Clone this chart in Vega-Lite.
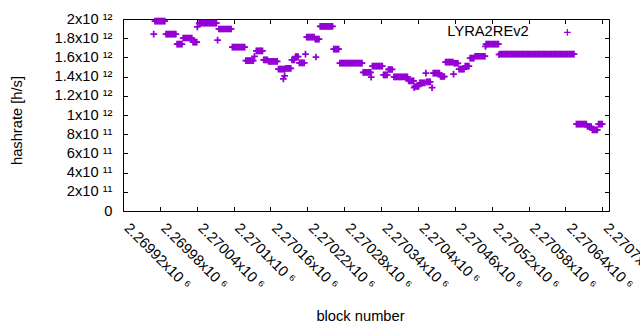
{
"$schema":"https://vega.github.io/schema/vega-lite/v6.json",
"width":486,"height":192,
"autosize":{"type":"none"},
"padding":{"left":123,"top":19,"right":31,"bottom":119},
"background":"white",
"config":{"view":{"stroke":null},"font":"Liberation Sans"},
"data":{"values":[
{"block":2269970,"hashrate":1.843e12},
{"block":2269972,"hashrate":1.977e12},{"block":2269974,"hashrate":1.977e12},{"block":2269976,"hashrate":1.977e12},{"block":2269978,"hashrate":1.977e12},{"block":2269980,"hashrate":1.977e12},{"block":2269982,"hashrate":1.977e12},{"block":2269984,"hashrate":1.977e12},{"block":2269986,"hashrate":1.977e12},{"block":2269988,"hashrate":1.977e12},
{"block":2269990,"hashrate":1.843e12},{"block":2269992,"hashrate":1.843e12},{"block":2269994,"hashrate":1.843e12},{"block":2269996,"hashrate":1.843e12},{"block":2269998,"hashrate":1.843e12},{"block":2270000,"hashrate":1.843e12},{"block":2270002,"hashrate":1.843e12},{"block":2270004,"hashrate":1.843e12},{"block":2270006,"hashrate":1.843e12},
{"block":2270008,"hashrate":1.739e12},{"block":2270010,"hashrate":1.739e12},{"block":2270012,"hashrate":1.739e12},{"block":2270014,"hashrate":1.739e12},{"block":2270016,"hashrate":1.739e12},
{"block":2270018,"hashrate":1.802e12},{"block":2270020,"hashrate":1.802e12},{"block":2270022,"hashrate":1.802e12},{"block":2270024,"hashrate":1.802e12},{"block":2270026,"hashrate":1.802e12},{"block":2270028,"hashrate":1.802e12},{"block":2270030,"hashrate":1.802e12},{"block":2270032,"hashrate":1.802e12},
{"block":2270034,"hashrate":1.76e12},{"block":2270036,"hashrate":1.76e12},{"block":2270038,"hashrate":1.76e12},{"block":2270040,"hashrate":1.76e12},
{"block":2270041,"hashrate":1.917e12},
{"block":2270044,"hashrate":1.958e12},{"block":2270046,"hashrate":1.958e12},{"block":2270048,"hashrate":1.958e12},{"block":2270050,"hashrate":1.958e12},{"block":2270052,"hashrate":1.958e12},{"block":2270054,"hashrate":1.958e12},{"block":2270056,"hashrate":1.958e12},{"block":2270058,"hashrate":1.958e12},{"block":2270060,"hashrate":1.958e12},{"block":2270062,"hashrate":1.958e12},{"block":2270064,"hashrate":1.958e12},{"block":2270066,"hashrate":1.958e12},{"block":2270068,"hashrate":1.958e12},{"block":2270070,"hashrate":1.958e12},{"block":2270072,"hashrate":1.958e12},
{"block":2270074,"hashrate":1.781e12},
{"block":2270076,"hashrate":1.896e12},{"block":2270078,"hashrate":1.896e12},{"block":2270080,"hashrate":1.896e12},{"block":2270082,"hashrate":1.896e12},{"block":2270084,"hashrate":1.896e12},{"block":2270086,"hashrate":1.896e12},{"block":2270088,"hashrate":1.896e12},{"block":2270090,"hashrate":1.896e12},{"block":2270092,"hashrate":1.896e12},{"block":2270094,"hashrate":1.896e12},{"block":2270096,"hashrate":1.896e12},
{"block":2270098,"hashrate":1.708e12},{"block":2270100,"hashrate":1.708e12},{"block":2270102,"hashrate":1.708e12},{"block":2270104,"hashrate":1.708e12},{"block":2270106,"hashrate":1.708e12},{"block":2270108,"hashrate":1.708e12},{"block":2270110,"hashrate":1.708e12},{"block":2270112,"hashrate":1.708e12},{"block":2270114,"hashrate":1.708e12},{"block":2270116,"hashrate":1.708e12},{"block":2270118,"hashrate":1.708e12},
{"block":2270120,"hashrate":1.567e12},{"block":2270122,"hashrate":1.567e12},{"block":2270124,"hashrate":1.567e12},{"block":2270126,"hashrate":1.567e12},{"block":2270128,"hashrate":1.567e12},{"block":2270130,"hashrate":1.567e12},{"block":2270132,"hashrate":1.567e12},
{"block":2270134,"hashrate":1.61e12},
{"block":2270137,"hashrate":1.669e12},{"block":2270139,"hashrate":1.669e12},{"block":2270141,"hashrate":1.669e12},{"block":2270143,"hashrate":1.669e12},{"block":2270145,"hashrate":1.669e12},{"block":2270147,"hashrate":1.669e12},
{"block":2270149,"hashrate":1.575e12},{"block":2270151,"hashrate":1.575e12},{"block":2270153,"hashrate":1.575e12},{"block":2270155,"hashrate":1.575e12},
{"block":2270157,"hashrate":1.558e12},{"block":2270159,"hashrate":1.558e12},{"block":2270161,"hashrate":1.558e12},{"block":2270163,"hashrate":1.558e12},{"block":2270165,"hashrate":1.558e12},{"block":2270167,"hashrate":1.558e12},{"block":2270169,"hashrate":1.558e12},{"block":2270171,"hashrate":1.558e12},
{"block":2270173,"hashrate":1.478e12},{"block":2270175,"hashrate":1.478e12},{"block":2270177,"hashrate":1.478e12},{"block":2270179,"hashrate":1.478e12},{"block":2270181,"hashrate":1.478e12},{"block":2270183,"hashrate":1.478e12},
{"block":2270181,"hashrate":1.377e12},{"block":2270183,"hashrate":1.408e12},
{"block":2270185,"hashrate":1.485e12},{"block":2270187,"hashrate":1.485e12},{"block":2270189,"hashrate":1.485e12},{"block":2270191,"hashrate":1.485e12},{"block":2270193,"hashrate":1.485e12},
{"block":2270195,"hashrate":1.575e12},{"block":2270197,"hashrate":1.575e12},{"block":2270199,"hashrate":1.575e12},
{"block":2270201,"hashrate":1.607e12},{"block":2270203,"hashrate":1.607e12},{"block":2270205,"hashrate":1.607e12},
{"block":2270207,"hashrate":1.544e12},{"block":2270209,"hashrate":1.544e12},{"block":2270211,"hashrate":1.544e12},{"block":2270213,"hashrate":1.544e12},{"block":2270215,"hashrate":1.544e12},
{"block":2270217,"hashrate":1.635e12},
{"block":2270219,"hashrate":1.812e12},{"block":2270221,"hashrate":1.812e12},{"block":2270223,"hashrate":1.812e12},{"block":2270225,"hashrate":1.812e12},{"block":2270227,"hashrate":1.812e12},{"block":2270229,"hashrate":1.812e12},{"block":2270231,"hashrate":1.812e12},
{"block":2270233,"hashrate":1.791e12},{"block":2270235,"hashrate":1.791e12},{"block":2270237,"hashrate":1.791e12},{"block":2270239,"hashrate":1.791e12},
{"block":2270234,"hashrate":1.604e12},
{"block":2270241,"hashrate":1.923e12},{"block":2270243,"hashrate":1.923e12},{"block":2270245,"hashrate":1.923e12},{"block":2270247,"hashrate":1.923e12},{"block":2270249,"hashrate":1.923e12},{"block":2270251,"hashrate":1.923e12},{"block":2270253,"hashrate":1.923e12},{"block":2270255,"hashrate":1.923e12},{"block":2270257,"hashrate":1.923e12},{"block":2270259,"hashrate":1.923e12},{"block":2270261,"hashrate":1.923e12},
{"block":2270263,"hashrate":1.687e12},{"block":2270265,"hashrate":1.687e12},{"block":2270267,"hashrate":1.687e12},{"block":2270269,"hashrate":1.687e12},{"block":2270271,"hashrate":1.687e12},
{"block":2270273,"hashrate":1.541e12},{"block":2270275,"hashrate":1.541e12},{"block":2270277,"hashrate":1.541e12},{"block":2270279,"hashrate":1.541e12},{"block":2270281,"hashrate":1.541e12},{"block":2270283,"hashrate":1.541e12},{"block":2270285,"hashrate":1.541e12},{"block":2270287,"hashrate":1.541e12},{"block":2270289,"hashrate":1.541e12},{"block":2270291,"hashrate":1.541e12},{"block":2270293,"hashrate":1.541e12},{"block":2270295,"hashrate":1.541e12},{"block":2270297,"hashrate":1.541e12},{"block":2270299,"hashrate":1.541e12},{"block":2270301,"hashrate":1.541e12},{"block":2270303,"hashrate":1.541e12},{"block":2270305,"hashrate":1.541e12},{"block":2270307,"hashrate":1.541e12},{"block":2270309,"hashrate":1.541e12},
{"block":2270311,"hashrate":1.445e12},{"block":2270313,"hashrate":1.445e12},{"block":2270315,"hashrate":1.445e12},{"block":2270317,"hashrate":1.445e12},{"block":2270319,"hashrate":1.445e12},{"block":2270321,"hashrate":1.445e12},{"block":2270323,"hashrate":1.445e12},
{"block":2270324,"hashrate":1.395e12},
{"block":2270326,"hashrate":1.51e12},{"block":2270328,"hashrate":1.51e12},{"block":2270330,"hashrate":1.51e12},{"block":2270332,"hashrate":1.51e12},{"block":2270334,"hashrate":1.51e12},{"block":2270336,"hashrate":1.51e12},{"block":2270338,"hashrate":1.51e12},{"block":2270340,"hashrate":1.51e12},{"block":2270342,"hashrate":1.51e12},
{"block":2270344,"hashrate":1.419e12},{"block":2270346,"hashrate":1.419e12},{"block":2270348,"hashrate":1.419e12},{"block":2270350,"hashrate":1.419e12},
{"block":2270352,"hashrate":1.474e12},{"block":2270354,"hashrate":1.474e12},{"block":2270356,"hashrate":1.474e12},{"block":2270358,"hashrate":1.474e12},
{"block":2270361,"hashrate":1.398e12},{"block":2270363,"hashrate":1.398e12},{"block":2270365,"hashrate":1.398e12},{"block":2270367,"hashrate":1.398e12},{"block":2270369,"hashrate":1.398e12},{"block":2270371,"hashrate":1.398e12},{"block":2270373,"hashrate":1.398e12},{"block":2270375,"hashrate":1.398e12},{"block":2270377,"hashrate":1.398e12},{"block":2270379,"hashrate":1.398e12},{"block":2270381,"hashrate":1.398e12},{"block":2270383,"hashrate":1.398e12},
{"block":2270385,"hashrate":1.356e12},{"block":2270387,"hashrate":1.356e12},{"block":2270389,"hashrate":1.356e12},{"block":2270391,"hashrate":1.356e12},{"block":2270393,"hashrate":1.356e12},
{"block":2270394,"hashrate":1.286e12},
{"block":2270395,"hashrate":1.297e12},{"block":2270397,"hashrate":1.297e12},{"block":2270399,"hashrate":1.297e12},{"block":2270401,"hashrate":1.297e12},
{"block":2270403,"hashrate":1.335e12},{"block":2270405,"hashrate":1.335e12},{"block":2270407,"hashrate":1.335e12},{"block":2270409,"hashrate":1.335e12},{"block":2270411,"hashrate":1.335e12},
{"block":2270413,"hashrate":1.437e12},
{"block":2270414,"hashrate":1.346e12},{"block":2270416,"hashrate":1.346e12},{"block":2270418,"hashrate":1.346e12},{"block":2270420,"hashrate":1.346e12},
{"block":2270423,"hashrate":1.286e12},
{"block":2270425,"hashrate":1.437e12},{"block":2270427,"hashrate":1.437e12},{"block":2270429,"hashrate":1.437e12},{"block":2270431,"hashrate":1.437e12},{"block":2270433,"hashrate":1.437e12},{"block":2270435,"hashrate":1.437e12},
{"block":2270437,"hashrate":1.401e12},{"block":2270439,"hashrate":1.401e12},{"block":2270441,"hashrate":1.401e12},{"block":2270443,"hashrate":1.401e12},
{"block":2270445,"hashrate":1.551e12},{"block":2270447,"hashrate":1.551e12},{"block":2270449,"hashrate":1.551e12},{"block":2270451,"hashrate":1.551e12},{"block":2270453,"hashrate":1.551e12},{"block":2270455,"hashrate":1.551e12},{"block":2270457,"hashrate":1.551e12},
{"block":2270458,"hashrate":1.426e12},
{"block":2270459,"hashrate":1.539e12},{"block":2270461,"hashrate":1.539e12},{"block":2270463,"hashrate":1.539e12},{"block":2270465,"hashrate":1.539e12},
{"block":2270467,"hashrate":1.478e12},{"block":2270469,"hashrate":1.478e12},{"block":2270471,"hashrate":1.478e12},{"block":2270473,"hashrate":1.478e12},{"block":2270475,"hashrate":1.478e12},
{"block":2270477,"hashrate":1.51e12},{"block":2270479,"hashrate":1.51e12},{"block":2270481,"hashrate":1.51e12},{"block":2270483,"hashrate":1.51e12},
{"block":2270485,"hashrate":1.593e12},{"block":2270487,"hashrate":1.593e12},{"block":2270489,"hashrate":1.593e12},{"block":2270491,"hashrate":1.593e12},
{"block":2270493,"hashrate":1.612e12},{"block":2270495,"hashrate":1.612e12},{"block":2270497,"hashrate":1.612e12},{"block":2270499,"hashrate":1.612e12},{"block":2270501,"hashrate":1.612e12},{"block":2270503,"hashrate":1.612e12},{"block":2270505,"hashrate":1.612e12},{"block":2270507,"hashrate":1.612e12},{"block":2270509,"hashrate":1.612e12},
{"block":2270510,"hashrate":1.714e12},
{"block":2270511,"hashrate":1.739e12},{"block":2270513,"hashrate":1.739e12},{"block":2270515,"hashrate":1.739e12},{"block":2270517,"hashrate":1.739e12},{"block":2270519,"hashrate":1.739e12},{"block":2270521,"hashrate":1.739e12},{"block":2270523,"hashrate":1.739e12},{"block":2270525,"hashrate":1.739e12},{"block":2270527,"hashrate":1.739e12},{"block":2270529,"hashrate":1.739e12},{"block":2270531,"hashrate":1.739e12},
{"block":2270532,"hashrate":1.628e12},
{"block":2270534,"hashrate":1.635e12},{"block":2270536,"hashrate":1.635e12},{"block":2270538,"hashrate":1.635e12},{"block":2270540,"hashrate":1.635e12},{"block":2270542,"hashrate":1.635e12},{"block":2270544,"hashrate":1.635e12},{"block":2270546,"hashrate":1.635e12},{"block":2270548,"hashrate":1.635e12},{"block":2270550,"hashrate":1.635e12},{"block":2270552,"hashrate":1.635e12},
{"block":2270554,"hashrate":1.635e12},{"block":2270556,"hashrate":1.635e12},{"block":2270558,"hashrate":1.635e12},{"block":2270560,"hashrate":1.635e12},{"block":2270562,"hashrate":1.635e12},{"block":2270564,"hashrate":1.635e12},{"block":2270566,"hashrate":1.635e12},{"block":2270568,"hashrate":1.635e12},{"block":2270570,"hashrate":1.635e12},{"block":2270572,"hashrate":1.635e12},
{"block":2270574,"hashrate":1.635e12},{"block":2270576,"hashrate":1.635e12},{"block":2270578,"hashrate":1.635e12},{"block":2270580,"hashrate":1.635e12},{"block":2270582,"hashrate":1.635e12},{"block":2270584,"hashrate":1.635e12},{"block":2270586,"hashrate":1.635e12},{"block":2270588,"hashrate":1.635e12},{"block":2270590,"hashrate":1.635e12},{"block":2270592,"hashrate":1.635e12},
{"block":2270594,"hashrate":1.635e12},{"block":2270596,"hashrate":1.635e12},{"block":2270598,"hashrate":1.635e12},{"block":2270600,"hashrate":1.635e12},{"block":2270602,"hashrate":1.635e12},{"block":2270604,"hashrate":1.635e12},{"block":2270606,"hashrate":1.635e12},{"block":2270608,"hashrate":1.635e12},{"block":2270610,"hashrate":1.635e12},{"block":2270612,"hashrate":1.635e12},
{"block":2270614,"hashrate":1.635e12},{"block":2270616,"hashrate":1.635e12},{"block":2270618,"hashrate":1.635e12},{"block":2270620,"hashrate":1.635e12},{"block":2270622,"hashrate":1.635e12},{"block":2270624,"hashrate":1.635e12},{"block":2270626,"hashrate":1.635e12},{"block":2270628,"hashrate":1.635e12},{"block":2270630,"hashrate":1.635e12},{"block":2270632,"hashrate":1.635e12},
{"block":2270634,"hashrate":1.635e12},{"block":2270636,"hashrate":1.635e12},{"block":2270638,"hashrate":1.635e12},{"block":2270640,"hashrate":1.635e12},{"block":2270642,"hashrate":1.635e12},{"block":2270644,"hashrate":1.635e12},{"block":2270646,"hashrate":1.635e12},{"block":2270648,"hashrate":1.635e12},{"block":2270650,"hashrate":1.635e12},{"block":2270652,"hashrate":1.635e12},{"block":2270654,"hashrate":1.635e12},
{"block":2270658,"hashrate":9.05e11},{"block":2270660,"hashrate":9.05e11},{"block":2270662,"hashrate":9.05e11},{"block":2270664,"hashrate":9.05e11},{"block":2270666,"hashrate":9.05e11},{"block":2270668,"hashrate":9.05e11},{"block":2270670,"hashrate":9.05e11},{"block":2270672,"hashrate":9.05e11},{"block":2270674,"hashrate":9.05e11},
{"block":2270676,"hashrate":8.8e11},{"block":2270678,"hashrate":8.8e11},{"block":2270680,"hashrate":8.8e11},{"block":2270682,"hashrate":8.8e11},
{"block":2270684,"hashrate":8.45e11},{"block":2270686,"hashrate":8.45e11},{"block":2270688,"hashrate":8.45e11},{"block":2270690,"hashrate":8.45e11},{"block":2270692,"hashrate":8.45e11},
{"block":2270694,"hashrate":9.05e11},{"block":2270696,"hashrate":9.05e11},{"block":2270698,"hashrate":9.05e11},{"block":2270700,"hashrate":9.05e11}
]},
"layer":[
{"mark":{"type":"point","shape":"M-1,0L1,0M0,-1L0,1","filled":false,"size":45,"strokeWidth":1.75,"opacity":1},
 "encoding":{
  "x":{"field":"block","type":"quantitative","scale":{"domain":[2269920,2270711],"nice":false,"zero":false},
   "axis":{"orient":"bottom","values":[2269920,2269980,2270040,2270100,2270160,2270220,2270280,2270340,2270400,2270460,2270520,2270580,2270640,2270700],
    "labelExpr":"format(datum.value/1e6,'.6~g')+'x10 ⁶'","labelAngle":45,"labelAlign":"left","labelBaseline":"alphabetic","labelPadding":22,"labelOverlap":false,"labelBound":false,"labelFlush":false,
    "labelFont":"Liberation Sans","labelFontSize":14.7,"labelColor":"black","tickSize":-4.5,"tickColor":"black","domainColor":"black","grid":false,
    "title":"block number","titleFont":"Liberation Sans","titleFontSize":14.7,"titleFontWeight":"normal","titleColor":"black","titleX":237,"titleY":105,"titleAlign":"center","titleBaseline":"middle","titleAngle":0}},
  "y":{"field":"hashrate","type":"quantitative","scale":{"domain":[0,2e12],"nice":false,"zero":true},
   "axis":{"orient":"left","values":[0,2e11,4e11,6e11,8e11,1e12,1.2e12,1.4e12,1.6e12,1.8e12,2e12],
    "labelExpr":"datum.value==0?'0':(datum.value>=1e12?format(datum.value/1e12,'~g')+'x10 ¹²':format(datum.value/1e11,'~g')+'x10 ¹¹')",
    "labelPadding":15.5,"labelFont":"Liberation Sans","labelFontSize":14.7,"labelColor":"black","labelOverlap":false,"labelBound":false,"labelFlush":false,
    "tickSize":-4.5,"tickColor":"black","domainColor":"black","grid":false,
    "title":"hashrate [h/s]","titleFont":"Liberation Sans","titleFontSize":14.7,"titleFontWeight":"normal","titleColor":"black","titleX":-106,"titleY":101,"titleAngle":-90,"titleAlign":"center","titleBaseline":"middle"}},
  "color":{"datum":"LYRA2REv2","type":"nominal","scale":{"range":["#9400d3"]},
   "legend":{"title":null,"orient":"none","legendX":437,"legendY":6,"padding":0,"labelAlign":"right","labelOffset":-46,"labelFont":"Liberation Sans","labelFontSize":14.7,"labelColor":"black",
    "symbolType":"M-1,0L1,0M0,-1L0,1","symbolSize":45,"symbolStrokeWidth":1.2,"symbolStrokeColor":"#9400d3","symbolFillColor":"transparent"}}
 }},
{"mark":{"type":"point","opacity":0},
 "encoding":{
  "x":{"field":"block","type":"quantitative","scale":{"domain":[2269920,2270711],"nice":false,"zero":false},
   "axis":{"orient":"top","values":[2269920,2269980,2270040,2270100,2270160,2270220,2270280,2270340,2270400,2270460,2270520,2270580,2270640,2270700],"labels":false,"title":null,"tickSize":-4.5,"tickColor":"black","domainColor":"black","grid":false}},
  "y":{"field":"hashrate","type":"quantitative","scale":{"domain":[0,2e12],"nice":false,"zero":true},
   "axis":{"orient":"right","values":[0,2e11,4e11,6e11,8e11,1e12,1.2e12,1.4e12,1.6e12,1.8e12,2e12],"labels":false,"title":null,"tickSize":-4.5,"tickColor":"black","domainColor":"black","grid":false}}
 }}
],
"resolve":{"axis":{"x":"independent","y":"independent"}}
}
